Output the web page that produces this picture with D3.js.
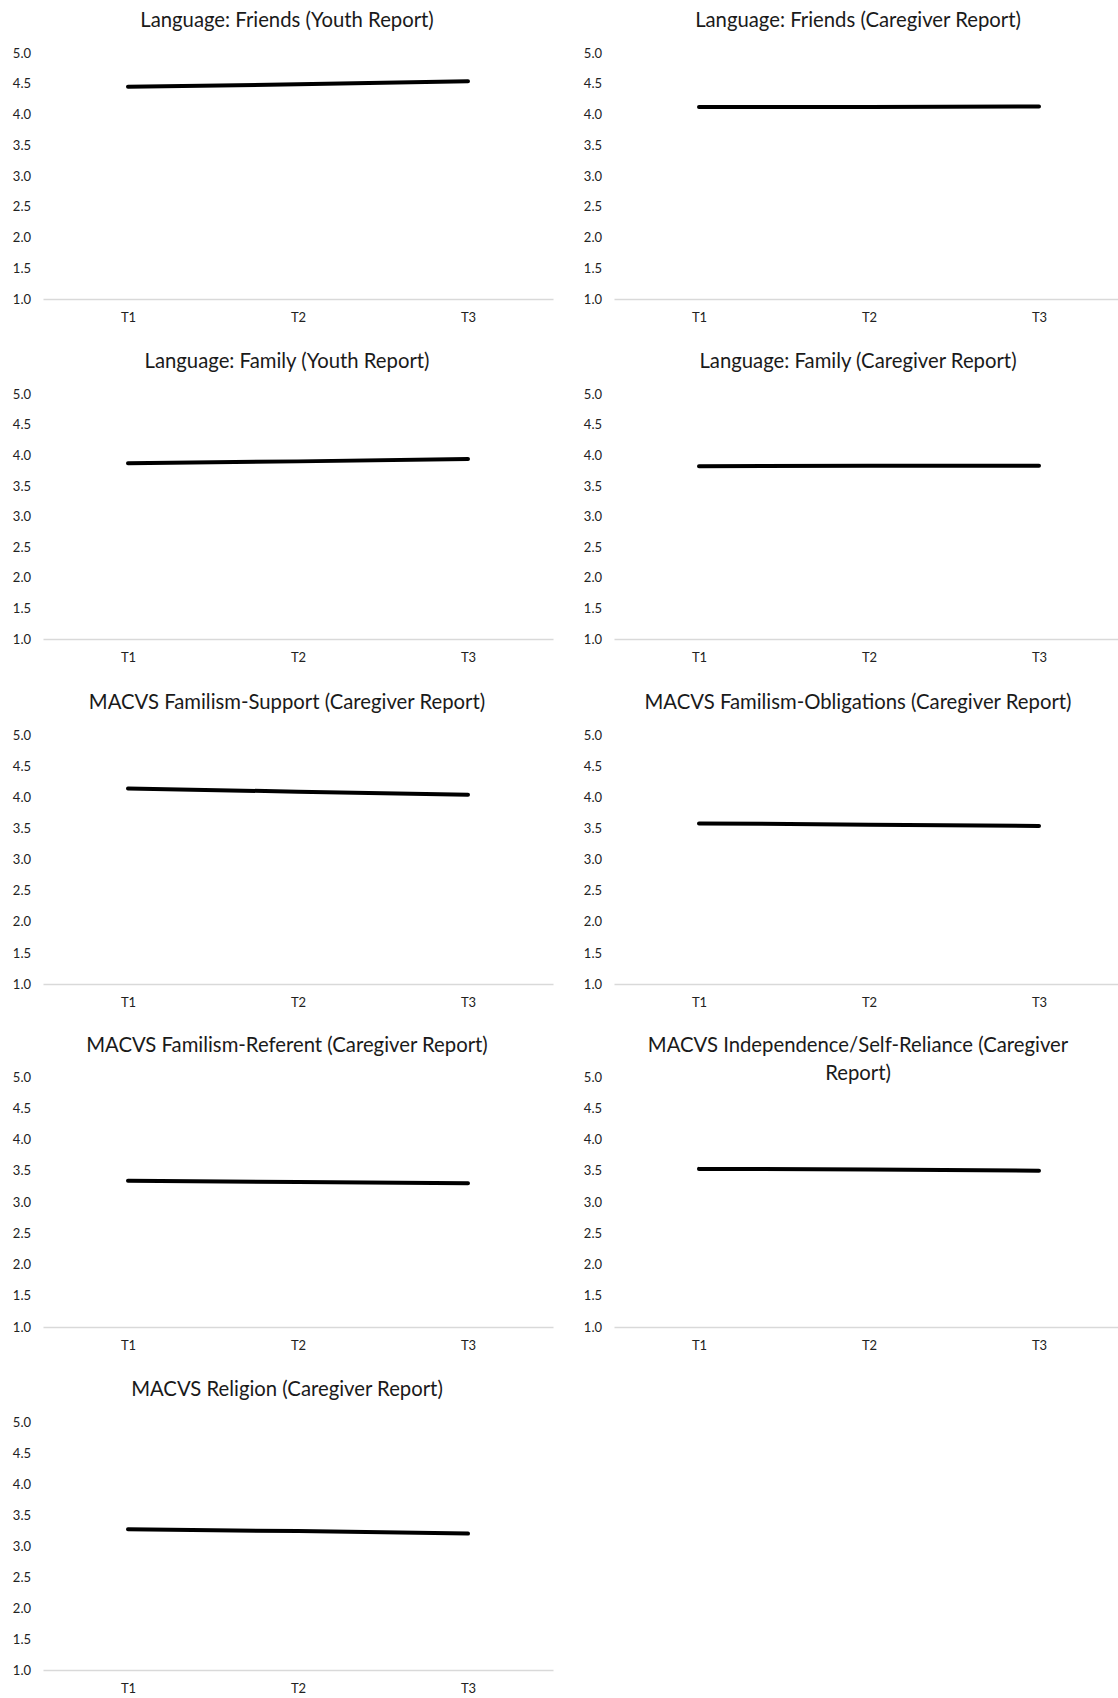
<!DOCTYPE html>
<html>
<head>
<meta charset="utf-8">
<script src="https://cdn.jsdelivr.net/npm/d3@7"></script>
<style>
  body { margin: 0; background: #fff; }
  svg { display: block; }
  .title { font-family: Lato, "Open Sans", sans-serif; font-size: 20.3px; fill: #1a1a1a; }
  .tick text { font-family: Lato, "Open Sans", sans-serif; font-size: 13px; fill: #222; }
</style>
</head>
<body>
<div id="charts"></div>
<script>
// panel titles, one per chart
var titles = [
  "Language: Friends (Youth Report)",
  "Language: Friends (Caregiver Report)",
  "Language: Family (Youth Report)",
  "Language: Family (Caregiver Report)",
  "MACVS Familism-Support (Caregiver Report)",
  "MACVS Familism-Obligations (Caregiver Report)",
  "MACVS Familism-Referent (Caregiver Report)",
  "MACVS Independence/Self-Reliance (Caregiver\nReport)",
  "MACVS Religion (Caregiver Report)"
];
var times = ["T1", "T2", "T3"];
var yTicks = [1.0, 1.5, 2.0, 2.5, 3.0, 3.5, 4.0, 4.5, 5.0];

// mean scores at T1, T2, T3
var friendsYouth     = [4.45, 4.49, 4.54];
var friendsCaregiver = [4.12, 4.12, 4.13];
var familyYouth      = [3.87, 3.90, 3.94];
var familyCaregiver  = [3.82, 3.83, 3.83];
var famSupport       = [4.14, 4.09, 4.04];
var famObligations   = [3.58, 3.56, 3.54];
var famReferent      = [3.34, 3.32, 3.30];
var independence     = [3.53, 3.52, 3.50];
var religion         = [3.27, 3.24, 3.20];

var series = [friendsYouth, friendsCaregiver, familyYouth, familyCaregiver,
  famSupport, famObligations, famReferent, independence, religion];

var W = 1118, H = 1698;
var colOff = [0, 571];
var rowTitle = [20, 361, 702, 1045, 1389];
var rowTop = [53, 394, 735, 1077, 1422];
var rowBottom = [299, 639, 984, 1327, 1670];

var svg = d3.select("#charts").append("svg")
  .attr("width", W)
  .attr("height", H);

for (var i = 0; i < series.length; i++) {
  var col = i % 2, row = Math.floor(i / 2);
  var ox = colOff[col];

  var x = d3.scalePoint().domain(times).range([ox + 43, ox + 553]).padding(0.5);
  var y = d3.scaleLinear().domain([1, 5]).range([rowBottom[row], rowTop[row]]);

  var g = svg.append("g");

  // title (may wrap to two lines)
  var lines = titles[i].split("\n");
  var t = g.append("text")
    .attr("class", "title")
    .attr("x", ox + 287)
    .attr("y", rowTitle[row])
    .attr("text-anchor", "middle");
  lines.forEach(function(l, k) {
    t.append("tspan").attr("x", ox + 287).attr("dy", k == 0 ? "0.35em" : "1.35em").text(l);
  });

  var yAxis = g.append("g")
    .attr("transform", "translate(" + (ox + 33) + ",0)")
    .call(d3.axisLeft(y).tickValues(yTicks).tickFormat(d3.format(".1f")).tickSize(0).tickPadding(2));
  yAxis.select(".domain").remove();

  var xAxis = g.append("g")
    .attr("transform", "translate(0," + rowBottom[row] + ")")
    .call(d3.axisBottom(x).tickSize(0).tickSizeOuter(0).tickPadding(14));
  xAxis.select(".domain").attr("stroke", "#d9d9d9").attr("stroke-width", 1.5);

  var line = d3.line()
    .x(function(d, k) { return x(times[k]); })
    .y(function(d) { return y(d); });

  g.append("path")
    .datum(series[i])
    .attr("fill", "none")
    .attr("stroke", "#000")
    .attr("stroke-width", 4)
    .attr("stroke-linecap", "round")
    .attr("d", line);
}
</script>
</body>
</html>
